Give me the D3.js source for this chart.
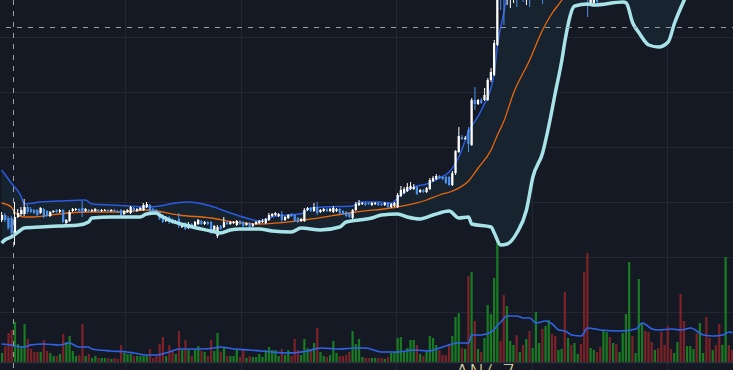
<!DOCTYPE html>
<html>
<head>
<meta charset="utf-8">
<script src="https://cdn.jsdelivr.net/npm/d3@7"></script>
<style>
  html, body { margin: 0; padding: 0; background: #151924; }
  #chart { width: 733px; height: 370px; overflow: hidden; }
</style>
</head>
<body>
<div id="chart"></div>
<script>
// daily candles (price units)
const openP = [
  1.37,1.42,1.39,1.39,1.23,1.40,1.43,1.43,1.50,1.48,
  1.47,1.47,1.44,1.48,1.46,1.41,1.45,1.47,1.45,1.47,
  1.34,1.36,1.46,1.47,1.48,1.49,1.46,1.47,1.46,1.46,
  1.47,1.46,1.46,1.47,1.46,1.47,1.46,1.47,1.43,1.45,
  1.44,1.49,1.46,1.47,1.47,1.50,1.52,1.48,1.47,1.45,
  1.42,1.36,1.40,1.38,1.34,1.38,1.30,1.34,1.29,1.33,
  1.31,1.33,1.36,1.33,1.35,1.35,1.25,1.21,1.31,1.30,
  1.35,1.33,1.34,1.32,1.36,1.35,1.32,1.34,1.31,1.33,
  1.34,1.35,1.34,1.37,1.41,1.42,1.41,1.43,1.37,1.39,
  1.43,1.42,1.39,1.36,1.36,1.47,1.49,1.46,1.50,1.45,
  1.46,1.48,1.46,1.45,1.46,1.48,1.46,1.45,1.44,1.39,
  1.47,1.52,1.53,1.54,1.54,1.52,1.53,1.54,1.53,1.52,
  1.54,1.50,1.51,1.50,1.61,1.64,1.66,1.68,1.68,1.70,
  1.65,1.67,1.65,1.68,1.76,1.78,1.81,1.80,1.80,1.80,
  1.72,1.84,2.05,2.20,2.18,2.27,2.12,2.57,2.53,2.57,
  2.57,2.57,2.77,2.82,3.12,3.72,3.77,3.62,3.82,3.92,
  3.97,3.87,4.02,3.92,4.07,3.97,4.12,4.27,4.32,4.17,
  4.32,4.42,4.27,4.17,4.27,4.37,4.17,4.32,4.22,4.27,
  4.32,4.17,3.87,3.52,3.54,3.62,3.67,3.60,3.80,4.00,
  3.90,4.05,3.95,4.05,4.20,4.40,4.70,4.55,4.62,4.90,
  5.00,4.85,4.70,4.60,4.68,4.58,4.42,4.35,4.20,4.15,
  4.22,4.35,4.10,3.98,4.05,4.12,4.18,4.05,4.25,4.30,
  4.10,4.02,4.08,4.00,3.85,3.92,4.20,4.10
];
const highP = [
  1.45,1.44,1.41,1.41,1.55,1.48,1.50,1.58,1.52,1.50,
  1.48,1.48,1.50,1.49,1.47,1.46,1.47,1.48,1.48,1.48,
  1.38,1.47,1.49,1.49,1.49,1.56,1.49,1.48,1.48,1.49,
  1.48,1.48,1.48,1.48,1.48,1.48,1.47,1.48,1.47,1.48,
  1.51,1.50,1.49,1.50,1.54,1.55,1.53,1.49,1.48,1.46,
  1.43,1.41,1.41,1.39,1.37,1.44,1.34,1.35,1.35,1.34,
  1.36,1.38,1.37,1.36,1.36,1.36,1.32,1.32,1.32,1.40,
  1.36,1.36,1.36,1.37,1.37,1.36,1.35,1.35,1.34,1.36,
  1.37,1.38,1.39,1.44,1.44,1.45,1.44,1.46,1.41,1.43,
  1.44,1.43,1.40,1.39,1.49,1.50,1.50,1.54,1.55,1.48,
  1.49,1.49,1.49,1.51,1.49,1.49,1.47,1.46,1.45,1.48,
  1.55,1.57,1.55,1.55,1.55,1.55,1.55,1.55,1.54,1.55,
  1.55,1.54,1.55,1.64,1.71,1.70,1.74,1.75,1.73,1.71,
  1.68,1.68,1.70,1.79,1.81,1.83,1.82,1.81,1.81,1.81,
  1.86,2.07,2.30,2.22,2.21,2.30,2.59,2.70,2.58,2.59,
  2.69,2.79,2.89,3.17,3.82,3.87,3.92,3.97,4.07,4.12,
  4.12,4.12,4.17,4.17,4.22,4.27,4.37,4.42,4.47,4.42,
  4.52,4.52,4.42,4.37,4.47,4.52,4.42,4.42,4.37,4.42,
  4.42,4.27,3.97,3.77,3.75,3.72,3.77,3.90,4.10,4.10,
  4.15,4.12,4.12,4.30,4.50,4.80,4.80,4.70,5.00,5.10,
  5.05,4.90,4.78,4.75,4.72,4.62,4.48,4.40,4.25,4.28,
  4.40,4.40,4.15,4.12,4.18,4.25,4.22,4.32,4.35,4.35,
  4.15,4.14,4.12,4.05,3.98,4.30,4.25,4.15
];
const lowP = [
  1.35,1.35,1.27,1.21,1.12,1.39,1.41,1.41,1.43,1.44,
  1.43,1.41,1.43,1.39,1.40,1.40,1.44,1.44,1.44,1.34,
  1.33,1.35,1.45,1.46,1.45,1.40,1.45,1.45,1.45,1.45,
  1.45,1.45,1.46,1.45,1.45,1.45,1.44,1.41,1.42,1.44,
  1.43,1.45,1.45,1.46,1.46,1.49,1.43,1.44,1.42,1.37,
  1.34,1.35,1.33,1.33,1.33,1.29,1.29,1.27,1.28,1.30,
  1.30,1.32,1.32,1.32,1.32,1.23,1.24,1.19,1.27,1.29,
  1.32,1.32,1.33,1.31,1.32,1.30,1.31,1.29,1.30,1.32,
  1.33,1.34,1.33,1.36,1.40,1.41,1.40,1.35,1.36,1.38,
  1.40,1.35,1.34,1.35,1.35,1.46,1.45,1.45,1.42,1.44,
  1.45,1.45,1.45,1.44,1.45,1.43,1.42,1.40,1.39,1.38,
  1.46,1.51,1.52,1.51,1.52,1.51,1.52,1.51,1.51,1.51,
  1.49,1.49,1.50,1.49,1.60,1.63,1.65,1.67,1.67,1.62,
  1.64,1.64,1.64,1.67,1.75,1.77,1.78,1.77,1.73,1.71,
  1.71,1.82,2.04,2.17,2.17,2.05,2.11,2.47,2.52,2.53,
  2.56,2.56,2.75,2.81,3.11,3.47,3.32,3.52,3.49,3.54,
  3.50,3.62,3.55,3.52,3.50,3.62,3.67,3.77,3.53,3.72,
  3.77,3.82,3.72,3.82,3.87,3.77,3.87,3.92,3.97,4.07,
  3.87,3.67,3.40,3.51,3.53,3.53,3.57,3.58,3.75,3.80,
  3.85,3.88,3.90,4.00,4.15,4.35,4.45,4.50,4.55,4.82,
  4.75,4.60,4.52,4.55,4.50,4.35,4.28,4.12,4.08,4.10,
  4.18,4.00,3.90,3.92,4.00,4.08,3.98,4.00,4.20,4.02,
  3.95,3.98,3.94,3.78,3.80,3.88,4.02,3.98
];
const closeP = [
  1.42,1.37,1.29,1.24,1.40,1.44,1.47,1.50,1.45,1.45,
  1.44,1.42,1.49,1.40,1.41,1.45,1.46,1.45,1.47,1.35,
  1.37,1.45,1.48,1.48,1.46,1.45,1.48,1.46,1.47,1.48,
  1.46,1.47,1.47,1.46,1.47,1.46,1.45,1.42,1.46,1.47,
  1.50,1.46,1.48,1.49,1.52,1.53,1.44,1.45,1.43,1.38,
  1.35,1.40,1.35,1.34,1.36,1.31,1.33,1.28,1.33,1.31,
  1.35,1.37,1.33,1.35,1.33,1.24,1.31,1.30,1.28,1.35,
  1.33,1.35,1.35,1.36,1.33,1.31,1.34,1.30,1.33,1.35,
  1.36,1.36,1.38,1.42,1.43,1.44,1.43,1.37,1.40,1.42,
  1.41,1.36,1.35,1.38,1.47,1.49,1.46,1.50,1.44,1.47,
  1.48,1.46,1.48,1.49,1.48,1.44,1.43,1.41,1.40,1.47,
  1.53,1.54,1.54,1.52,1.53,1.54,1.54,1.52,1.52,1.54,
  1.50,1.53,1.54,1.62,1.67,1.68,1.70,1.71,1.70,1.63,
  1.67,1.65,1.69,1.77,1.79,1.81,1.79,1.78,1.74,1.72,
  1.84,2.06,2.21,2.18,2.19,2.13,2.57,2.53,2.57,2.54,
  2.62,2.77,2.85,3.14,3.77,3.65,3.62,3.87,3.97,4.02,
  3.87,4.02,3.92,4.07,3.97,4.12,4.27,4.32,4.17,4.32,
  4.42,4.27,4.17,4.27,4.37,4.17,4.32,4.22,4.27,4.32,
  4.17,3.87,3.67,3.67,3.67,3.55,3.60,3.80,4.00,3.90,
  4.05,3.95,4.05,4.20,4.40,4.70,4.55,4.62,4.90,5.00,
  4.85,4.70,4.60,4.68,4.58,4.42,4.35,4.20,4.15,4.22,
  4.35,4.10,3.98,4.05,4.12,4.18,4.05,4.25,4.30,4.10,
  4.02,4.08,4.00,3.85,3.92,4.20,4.10,4.05
];
const volume = [
  9,16,29,32,40,18,15,38,23,13,
  10,10,10,22,11,9,6,6,8,28,
  20,26,11,6,7,38,6,8,4,6,
  4,4,4,4,3,4,3,17,9,8,
  8,6,6,6,6,6,13,4,6,18,
  25,6,17,11,8,31,12,22,12,6,
  12,16,11,10,6,22,11,29,10,15,
  6,6,6,12,5,12,4,6,5,5,
  8,5,12,15,12,12,6,13,7,12,
  6,23,12,7,23,14,11,19,34,10,
  6,5,7,21,9,6,6,7,10,31,
  18,23,5,4,4,4,4,4,4,3,
  5,9,10,24,25,11,14,22,22,17,
  8,6,10,26,24,17,12,7,7,18,
  26,45,49,14,13,86,90,41,13,10,
  24,57,48,84,141,21,67,56,21,17,
  27,10,17,23,31,14,50,19,33,36,
  42,28,26,12,13,70,24,17,19,8,
  18,90,109,14,12,10,15,32,30,25,
  19,18,10,29,48,100,26,9,83,39,
  31,30,20,12,14,30,17,36,13,9,
  20,68,41,16,16,13,29,39,9,45,
  24,12,17,38,17,105,17,12
];

// bands: [candle index, value]
const upperBand = [
  [0,1.87],[3,1.74],[6,1.61],[7,1.53],[12,1.55],[18,1.56],[26,1.57],[28,1.53],
  [34,1.52],[40,1.51],[46,1.50],[49,1.51],[54,1.54],[58,1.55],[65,1.51],[71,1.44],
  [76,1.39],[80,1.36],[84,1.40],[94,1.44],[95,1.48],[100,1.50],[109,1.51],[111,1.55],
  [117,1.55],[121,1.54],[124,1.62],[128,1.70],[132,1.73],[136,1.79],[139,1.85],[142,2.00],
  [145,2.25],[149,2.47],[153,2.84],[154,3.12],[156,3.45],[160,4.2],[170,5.0],[185,5.4],
  [200,5.5],[227,5.3]
];
const middleBand = [
  [0,1.54],[3,1.50],[4,1.45],[7,1.40],[10,1.40],[15,1.42],[21,1.44],[27,1.45],
  [37,1.45],[45,1.47],[48,1.46],[55,1.42],[65,1.39],[72,1.35],[80,1.33],[94,1.37],
  [110,1.45],[123,1.50],[132,1.57],[136,1.62],[140,1.66],[145,1.76],[148,1.89],[152,2.07],
  [154,2.22],[156,2.36],[159,2.64],[164,2.97],[168,3.27],[171,3.44],[174,3.57],[180,3.95],
  [190,4.35],[205,4.6],[227,4.8]
];
const lowerBand = [
  [0,1.14],[1,1.17],[3,1.20],[6,1.27],[7,1.29],[12,1.30],[18,1.31],[24,1.32],
  [27,1.35],[28,1.39],[34,1.40],[43,1.40],[45,1.43],[48,1.44],[49,1.42],[52,1.37],
  [58,1.31],[65,1.26],[68,1.24],[71,1.27],[74,1.28],[80,1.28],[84,1.26],[90,1.25],
  [93,1.29],[99,1.27],[105,1.30],[107,1.35],[111,1.37],[115,1.39],[118,1.42],[123,1.43],
  [126,1.40],[130,1.38],[134,1.42],[139,1.46],[142,1.39],[145,1.40],[146,1.33],[152,1.30],
  [153,1.24],[155,1.12],[157,1.13],[160,1.24],[163,1.47],[165,1.80],[168,2.04],[170,2.32],
  [172,2.65],[174,2.97],[175,3.17],[178,3.51],[182,3.53],[184,3.52],[193,3.55],[194,3.54],
  [196,3.34],[198,3.24],[201,3.12],[204,3.10],[207,3.15],[209,3.34],[212,3.57],[215,3.77],
  [220,3.95],[227,4.05]
];
const volumeMA = [
  [0,18],[3,17],[4,16],[7,15],[9,17],[13,18],[18,17],[21,19],[24,15],[27,15],
  [28,13],[34,11],[39,10],[41,9],[45,7],[48,7],[52,10],[55,13],[62,13],[66,14],
  [68,15],[72,13],[77,12],[84,10],[89,9],[95,11],[99,14],[105,13],[110,14],[113,14],
  [118,10],[123,10],[128,12],[133,11],[136,14],[142,19],[145,19],[146,27],[149,27],[152,30],
  [155,40],[157,46],[160,46],[162,44],[164,44],[166,39],[169,41],[171,38],[173,32],[175,31],
  [177,27],[180,26],[182,34],[186,32],[192,31],[197,33],[199,39],[202,33],[204,32],[208,33],
  [211,32],[214,34],[218,27],[221,26],[224,27],[226,30],[227,29]
];

const priceGrid = [0.45, 1.0, 1.55, 2.1, 2.65, 3.2];
const monthStarts = [38.3, 74.3, 122.5, 164.7, 206.6];
const crossIdx = 3.63;
const crossPrice = 3.297;
const noteText = "AN(7";

const W = 733, H = 370;
const N = closeP.length;
const step = 3.22;

const x = d3.scaleBand().domain(d3.range(N)).range([0, N * step]).padding(0.3);
const xi = d3.scaleLinear().domain([-0.5, N - 0.5]).range([0, N * step]);
const y = d3.scaleLinear().domain([1.0, 3.2]).range([257, 37]);
const yVol = d3.scaleLinear().domain([0, 140]).range([362, 222]);

const candles = closeP.map((c, i) => ({
  i: i, o: openP[i], h: highP[i], l: lowP[i], c: c, v: volume[i]
}));

const svg = d3
  .select("#chart")
  .append("svg")
  .attr("width", W)
  .attr("height", H);

svg.append("rect").attr("width", W).attr("height", H).attr("fill", "#151924");

// grid
svg.append("g")
  .selectAll("line")
  .data(priceGrid)
  .join("line")
  .attr("x1", 0)
  .attr("x2", W)
  .attr("y1", (d) => Math.round(y(d)) + 0.5)
  .attr("y2", (d) => Math.round(y(d)) + 0.5)
  .attr("stroke", "#232733");

svg.append("g")
  .selectAll("line")
  .data(monthStarts)
  .join("line")
  .attr("x1", (d) => Math.round(xi(d)) + 0.5)
  .attr("x2", (d) => Math.round(xi(d)) + 0.5)
  .attr("y1", 0)
  .attr("y2", H)
  .attr("stroke", "#232733");

// volume
svg.append("g")
  .selectAll("rect")
  .data(candles)
  .join("rect")
  .attr("x", (d) => x(d.i))
  .attr("width", x.bandwidth())
  .attr("y", (d) => yVol(d.v))
  .attr("height", (d) => yVol(0) - yVol(d.v))
  .attr("fill", (d) => (d.c >= d.o ? "#187a22" : "#7a2228"));

const volLine = d3.line()
  .x((d) => xi(d[0]))
  .y((d) => yVol(d[1]))
  .curve(d3.curveMonotoneX);

svg.append("path")
  .attr("d", volLine(volumeMA))
  .attr("fill", "none")
  .attr("stroke", "#2f63e8")
  .attr("stroke-width", 1.6);

// pane border
svg.append("line")
  .attr("x1", 0).attr("x2", W)
  .attr("y1", yVol(0) + 0.5).attr("y2", yVol(0) + 0.5)
  .attr("stroke", "#2c303b")
  .attr("stroke-width", 1.5);

// band fill between upper and lower
const bandLine = d3.line()
  .x((d) => xi(d[0]))
  .y((d) => y(d[1]))
  .curve(d3.curveMonotoneX);

const belowUpper = d3.area()
  .x((d) => xi(d[0]))
  .y0(H + 50)
  .y1((d) => y(d[1]))
  .curve(d3.curveMonotoneX);

const aboveLower = d3.area()
  .x((d) => xi(d[0]))
  .y0(-2000)
  .y1((d) => y(d[1]))
  .curve(d3.curveMonotoneX);

svg.append("defs")
  .append("clipPath")
  .attr("id", "bandClip")
  .append("path")
  .attr("d", aboveLower(lowerBand));

svg.append("path")
  .attr("d", belowUpper(upperBand))
  .attr("fill", "#17232f")
  .attr("clip-path", "url(#bandClip)");

svg.append("path")
  .attr("d", bandLine(upperBand))
  .attr("fill", "none")
  .attr("stroke", "#2a5ce0")
  .attr("stroke-width", 1.5);

svg.append("path")
  .attr("d", bandLine(middleBand))
  .attr("fill", "none")
  .attr("stroke", "#e8680f")
  .attr("stroke-width", 1.3);

// candles
const candleG = svg.append("g");

candleG.selectAll("line")
  .data(candles)
  .join("line")
  .attr("x1", (d) => xi(d.i))
  .attr("x2", (d) => xi(d.i))
  .attr("y1", (d) => y(d.h))
  .attr("y2", (d) => y(d.l))
  .attr("stroke", (d) => (d.c >= d.o ? "#ffffff" : "#4d8fe8"))
  .attr("stroke-width", 1);

candleG.selectAll("rect")
  .data(candles)
  .join("rect")
  .attr("x", (d) => x(d.i))
  .attr("width", x.bandwidth())
  .attr("y", (d) => y(Math.max(d.o, d.c)))
  .attr("height", (d) => Math.max(1, Math.abs(y(d.o) - y(d.c))))
  .attr("fill", (d) => (d.c >= d.o ? "#ffffff" : "#4d8fe8"));

svg.append("path")
  .attr("d", bandLine(lowerBand))
  .attr("fill", "none")
  .attr("stroke", "#a7e3e8")
  .attr("stroke-width", 3.5)
  .attr("stroke-linejoin", "round");

// crosshair
svg.append("line")
  .attr("x1", Math.round(xi(crossIdx)) + 0.5)
  .attr("x2", Math.round(xi(crossIdx)) + 0.5)
  .attr("y1", 0)
  .attr("y2", H)
  .attr("stroke", "#9a9ea8")
  .attr("stroke-dasharray", "5 6");

svg.append("line")
  .attr("x1", 6)
  .attr("x2", W)
  .attr("y1", Math.round(y(crossPrice)) + 0.5)
  .attr("y2", Math.round(y(crossPrice)) + 0.5)
  .attr("stroke", "#9a9ea8")
  .attr("stroke-dasharray", "5 6");

// top of a drawing in the pane below, mostly cut off
svg.append("text")
  .attr("x", "455 469 486 502")
  .attr("y", 380)
  .attr("font-family", "DejaVu Sans")
  .attr("font-weight", 200)
  .attr("font-size", 21)
  .attr("fill", "#ece2ae")
  .text(noteText);
</script>
</body>
</html>
